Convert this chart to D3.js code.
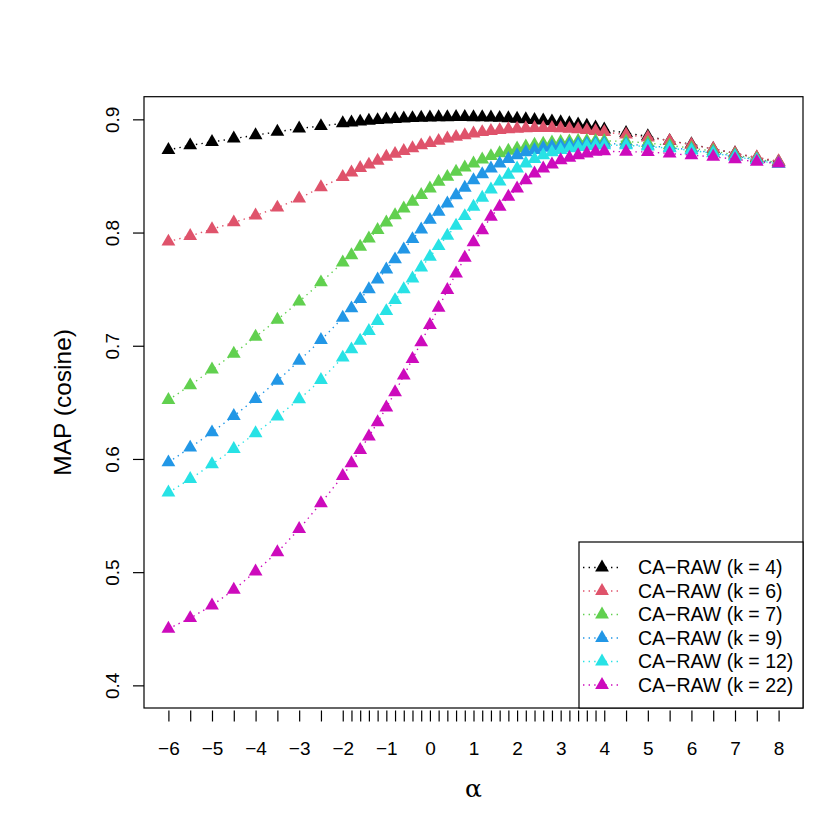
<!DOCTYPE html>
<html>
<head>
<meta charset="utf-8">
<script src="https://cdn.jsdelivr.net/npm/d3@7"></script>
<style>
  html, body { margin: 0; padding: 0; background: #fff; }
  svg { display: block; }
  text { font-family: "Liberation Sans", Arial, Helvetica, sans-serif; fill: #000; }
</style>
</head>
<body>
<svg id="chart" width="830" height="830"></svg>
<script>
// ---------- data ----------
const alphaValues = [
  -6, -5.5, -5, -4.5, -4, -3.5, -3, -2.5,
  -2, -1.8, -1.6, -1.4, -1.2, -1.0, -0.8, -0.6, -0.4, -0.2,
  0, 0.2, 0.4, 0.6, 0.8, 1.0, 1.2, 1.4, 1.6, 1.8,
  2.0, 2.2, 2.4, 2.6, 2.8, 3.0, 3.2, 3.4, 3.6, 3.8, 4.0,
  4.5, 5, 5.5, 6, 6.5, 7, 7.5, 8
];

const k4 = [
  0.873, 0.877, 0.880, 0.883, 0.886, 0.889, 0.892, 0.894,
  0.8965, 0.8972, 0.8980, 0.8987, 0.8993, 0.8998, 0.9003, 0.9007, 0.9011, 0.9014,
  0.9016, 0.9018, 0.9019, 0.9020, 0.9020, 0.9019, 0.9018, 0.9016, 0.9013, 0.9010,
  0.9005, 0.9000, 0.8995, 0.8989, 0.8982, 0.8975, 0.8966, 0.8955, 0.8944, 0.8928, 0.8910,
  0.888, 0.885, 0.881, 0.878, 0.8738, 0.870, 0.866, 0.8625
];
const k6 = [
  0.792, 0.797, 0.803, 0.809, 0.815, 0.822, 0.830, 0.840,
  0.849, 0.853, 0.857, 0.860, 0.8635, 0.867, 0.8695, 0.872, 0.8745, 0.877,
  0.879, 0.881, 0.883, 0.8845, 0.886, 0.8875, 0.8887, 0.8897, 0.8905, 0.8912,
  0.8917, 0.8921, 0.8923, 0.8924, 0.8923, 0.8921, 0.8917, 0.8912, 0.8905, 0.8897, 0.8888,
  0.8865, 0.884, 0.881, 0.8775, 0.874, 0.870, 0.8665, 0.863
];
const k7 = [
  0.652, 0.665, 0.679, 0.693, 0.708, 0.723, 0.739, 0.756,
  0.7735, 0.780, 0.7875, 0.7948, 0.8022, 0.8089, 0.8153, 0.8213, 0.8272, 0.8331,
  0.8389, 0.8448, 0.8492, 0.8537, 0.8575, 0.861, 0.8645, 0.8675, 0.870, 0.8722,
  0.8742, 0.876, 0.8775, 0.8785, 0.8795, 0.880, 0.8805, 0.8808, 0.881, 0.881, 0.881,
  0.8805, 0.879, 0.877, 0.8745, 0.872, 0.8685, 0.865, 0.8615
];
const k9 = [
  0.597, 0.610, 0.6235, 0.638, 0.653, 0.669, 0.6868, 0.705,
  0.7248, 0.733, 0.7412, 0.750, 0.7586, 0.7674, 0.7763, 0.7851, 0.7942, 0.8027,
  0.8112, 0.8184, 0.8257, 0.833, 0.8395, 0.8462, 0.8515, 0.8565, 0.861, 0.865,
  0.8683, 0.871, 0.873, 0.8748, 0.876, 0.877, 0.8777, 0.8782, 0.8785, 0.8787, 0.8787,
  0.878, 0.8768, 0.875, 0.873, 0.8705, 0.8675, 0.864, 0.861
];
const k12 = [
  0.5703, 0.5823, 0.5953, 0.6088, 0.6227, 0.6374, 0.6527, 0.6697,
  0.6895, 0.6968, 0.7045, 0.713, 0.7218, 0.7306, 0.7403, 0.750, 0.7595, 0.7692,
  0.7786, 0.788, 0.7972, 0.806, 0.8145, 0.8228, 0.8307, 0.838, 0.845, 0.851,
  0.8565, 0.861, 0.865, 0.8683, 0.871, 0.873, 0.8745, 0.8756, 0.8764, 0.877, 0.8772,
  0.877, 0.876, 0.8745, 0.8725, 0.870, 0.867, 0.864, 0.8605
];
const k22 = [
  0.450, 0.4594, 0.4706, 0.4844, 0.5006, 0.5176, 0.5382, 0.5609,
  0.585, 0.5962, 0.608, 0.6198, 0.6324, 0.6454, 0.6589, 0.6736, 0.6883, 0.703,
  0.7183, 0.7336, 0.7492, 0.7639, 0.7778, 0.7915, 0.8021, 0.8139, 0.8228, 0.8316,
  0.8389, 0.8462, 0.8522, 0.8566, 0.8601, 0.8639, 0.866, 0.8683, 0.8698, 0.8713, 0.8718,
  0.8713, 0.8712, 0.8698, 0.8683, 0.8669, 0.8648, 0.8625, 0.861
];

const seriesNames = ["CA\u2212RAW (k = 4)", "CA\u2212RAW (k = 6)", "CA\u2212RAW (k = 7)",
                     "CA\u2212RAW (k = 9)", "CA\u2212RAW (k = 12)", "CA\u2212RAW (k = 22)"];
const seriesValues = [k4, k6, k7, k9, k12, k22];
const seriesColors = ["#000000", "#DF536B", "#61D04F", "#2297E6", "#28E2E5", "#CD0BBC"];

const xTickLabels = [-6, -5, -4, -3, -2, -1, 0, 1, 2, 3, 4, 5, 6, 7, 8];
const yTicks = [0.4, 0.5, 0.6, 0.7, 0.8, 0.9];

// ---------- layout ----------
const box = { left: 144, right: 803, top: 96.7, bottom: 708 };
const svg = d3.select("#chart");

const x = d3.scaleLinear().domain([-6.56, 8.56]).range([box.left, box.right]);
const y = d3.scaleLinear().domain([0.38, 0.92]).range([box.bottom, box.top]);

const FS = 19;
const FS_LAB = 24.5;

// triangle (R pch 17), centered on centroid
const triSide = 13.8;
const triH = triSide * Math.sqrt(3) / 2;
function triPath(cx, cy) {
  return `M${cx},${cy - 2 * triH / 3}L${cx + triSide / 2},${cy + triH / 3}L${cx - triSide / 2},${cy + triH / 3}Z`;
}

// plot box
svg.append("rect")
  .attr("x", box.left).attr("y", box.top)
  .attr("width", box.right - box.left).attr("height", box.bottom - box.top)
  .attr("fill", "none").attr("stroke", "#000").attr("stroke-width", 1.2);

// x axis (ticks at every alpha, labels at integers)
const xAxis = d3.axisBottom(x)
  .tickValues(alphaValues)
  .tickSize(11)
  .tickFormat(d => xTickLabels.includes(d) ? (d < 0 ? "\u2212" + Math.abs(d) : String(d)) : "");
const gx = svg.append("g").attr("transform", `translate(0,${box.bottom + 2.5})`).call(xAxis);
gx.select(".domain").remove();
gx.selectAll(".tick line").attr("stroke", "#000").attr("stroke-width", 1.2);
gx.selectAll(".tick text")
  .attr("y", 0).attr("dy", 0)
  .attr("transform", "translate(0,44)")
  .style("font-size", FS + "px")
  .style("font-family", "'Liberation Sans', Arial, sans-serif")
  .attr("fill", "#000");

// y axis
const yAxis = d3.axisLeft(y).tickValues(yTicks).tickSize(11).tickFormat(d3.format(".1f"));
const gy = svg.append("g").attr("transform", `translate(${box.left},0)`).call(yAxis);
gy.select(".domain").remove();
gy.selectAll(".tick line").attr("stroke", "#000").attr("stroke-width", 1.2);
gy.selectAll(".tick text")
  .attr("x", 0).attr("dy", 0)
  .attr("text-anchor", "middle")
  .attr("transform", "translate(-25,0) rotate(-90)")
  .style("font-size", FS + "px")
  .style("font-family", "'Liberation Sans', Arial, sans-serif")
  .attr("fill", "#000");

// axis titles
svg.append("text")
  .attr("transform", `translate(71,${(box.top + box.bottom) / 2}) rotate(-90)`)
  .attr("text-anchor", "middle")
  .style("font-size", FS_LAB + "px")
  .text("MAP (cosine)");

svg.append("text")
  .attr("x", (box.left + box.right) / 2)
  .attr("y", 797)
  .attr("text-anchor", "middle")
  .style("font-size", "25px")
  .style("font-family", "'DejaVu Serif', 'Liberation Serif', serif")
  .text("\u03B1");

// series
const line = d3.line().x(d => x(d[0])).y(d => y(d[1]));
seriesValues.forEach((vals, i) => {
  const pts = alphaValues.map((a, j) => [a, vals[j]]);
  const g = svg.append("g");
  g.append("path")
    .attr("d", line(pts))
    .attr("fill", "none")
    .attr("stroke", seriesColors[i])
    .attr("stroke-width", 1.4)
    .attr("stroke-dasharray", "1.4,4.2");
  g.selectAll("path.pt").data(pts).enter().append("path")
    .attr("class", "pt")
    .attr("d", d => triPath(x(d[0]), y(d[1])))
    .attr("fill", seriesColors[i]);
});

// legend
const leg = { left: 579, top: 542, right: 803, bottom: 708 };
svg.append("rect")
  .attr("x", leg.left).attr("y", leg.top)
  .attr("width", leg.right - leg.left).attr("height", leg.bottom - leg.top)
  .attr("fill", "#fff").attr("stroke", "#000").attr("stroke-width", 1.2);
const rowY0 = 567.5, rowDY = 23.5;
seriesNames.forEach((name, i) => {
  const cy = rowY0 + i * rowDY;
  svg.append("line")
    .attr("x1", 583).attr("x2", 621).attr("y1", cy).attr("y2", cy)
    .attr("stroke", seriesColors[i]).attr("stroke-width", 1.4)
    .attr("stroke-dasharray", "1.4,4.2");
  svg.append("path").attr("d", triPath(602, cy)).attr("fill", seriesColors[i]);
  svg.append("text")
    .attr("x", 638).attr("y", cy + 6.9)
    .style("font-size", "19.5px")
    .text(name);
});
</script>
</body>
</html>
